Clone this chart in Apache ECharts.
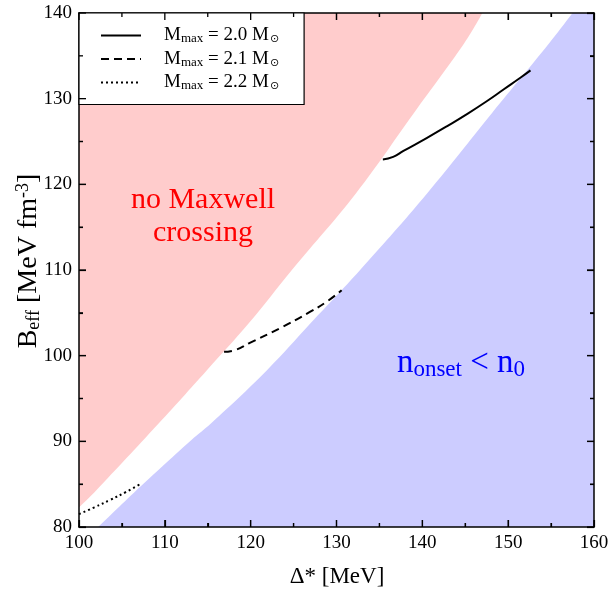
<!DOCTYPE html>
<html><head><meta charset="utf-8">
<script src="https://cdn.jsdelivr.net/npm/echarts@6/dist/echarts.min.js"></script>
<style>html,body{margin:0;padding:0;background:#fff}#c{width:613px;height:589px}</style>
</head><body><div id="c"></div>
<script>
// Region boundaries [Δ*, B_eff]
var noMaxwellEdge = [[100,82.3],[101.75,84.0],[109.3,92.1],[114.9,98.3],[119.8,103.8],[124.8,110],[132.3,119.0],[139.0,128.3],[144.9,136.5],[147.0,140]];
var onsetEdge = [[102.25,80],[106.4,84.0],[113.1,90.15],[115.4,92.1],[121.9,98.3],[127.0,103.8],[132.75,110],[140.6,119.0],[148.1,128.3],[154.8,136.5],[157.5,140],[160,143.3]];
// Curves
var m20 = [[135.4,122.9],[136.6,123.2],[137.8,123.9],[140.5,125.4],[142.9,126.8],[145.2,128.2],[147.5,129.7],[149.5,131.1],[151.5,132.5],[152.6,133.3]];
var m21 = [[116.9,100.45],[118,100.6],[119.9,101.5],[123.4,103.2],[126.9,105.1],[129,106.4],[130.6,107.65]];
var m22 = [[100,81.5],[101.8,82.3],[103.6,83.15],[105.4,84.05],[107.1,85.0]];
var legendLabels = {m20:'2.0', m21:'2.1', m22:'2.2'};
var xTicks = {min:100, max:160, interval:10};
var yTicks = {min:80, max:140, interval:10};

var FONT = '"Liberation Serif","DejaVu Serif",serif';
var chart = echarts.init(document.getElementById('c'));
var gridBox = {left:79, right:19, top:13, bottom:62, outerBoundsMode:'none'};
function axisCommon(show){
  return {
    z:10,
    axisLine:{show:true, onZero:false, lineStyle:{color:'#000', width:1.5}},
    axisTick:{show:true, inside:true, length:7, lineStyle:{color:'#000', width:1.2}},
    minorTick:{show:true, splitNumber:2, length:4, lineStyle:{color:'#000', width:1.2}},
    splitLine:{show:false},
    axisLabel:{show:show, color:'#000', fontFamily:FONT, fontSize:19, margin:7}
  };
}
var xB = Object.assign({type:'value', gridIndex:0, position:'bottom', min:xTicks.min, max:xTicks.max, interval:xTicks.interval}, axisCommon(true));
var xT = Object.assign({type:'value', gridIndex:1, position:'top', min:xTicks.min, max:xTicks.max, interval:xTicks.interval}, axisCommon(false));
var yL = Object.assign({type:'value', gridIndex:0, position:'left', min:yTicks.min, max:yTicks.max, interval:yTicks.interval}, axisCommon(true));
var yR = Object.assign({type:'value', gridIndex:1, position:'right', min:yTicks.min, max:yTicks.max, interval:yTicks.interval}, axisCommon(false));

// Tick marks (major + minor) derived from the axis definitions; kind: 0 x-major, 1 x-minor, 2 y-major, 3 y-minor
var tickData = [];
(function(){
  var v;
  for (v = xTicks.min; v <= xTicks.max + 1e-9; v += xTicks.interval/2) tickData.push([v, Math.round((v - xTicks.min)/(xTicks.interval/2)) % 2 === 0 ? 0 : 1]);
  for (v = yTicks.min; v <= yTicks.max + 1e-9; v += yTicks.interval/2) tickData.push([v, Math.round((v - yTicks.min)/(yTicks.interval/2)) % 2 === 0 ? 2 : 3]);
})();

function renderTick(params, api){
  var v = api.value(0), k = api.value(1);
  var len = (k === 0 || k === 2) ? 7 : 4;
  var segs = [];
  if (k < 2) {
    var b = api.coord([v, yTicks.min]), t = api.coord([v, yTicks.max]);
    segs.push([b[0], b[1], b[0], b[1] - len], [t[0], t[1], t[0], t[1] + len]);
  } else {
    var l = api.coord([xTicks.min, v]), r = api.coord([xTicks.max, v]);
    segs.push([l[0], l[1], l[0] + len, l[1]], [r[0], r[1], r[0] - len, r[1]]);
  }
  return {type:'group', children: segs.map(function(s){
    return {type:'line', shape:{x1:s[0], y1:s[1], x2:s[2], y2:s[3]}, style:{stroke:'#000', lineWidth:1.3}};
  })};
}

var legendRich = {
  a:{fontFamily:FONT, fontSize:19, color:'#000'},
  s:{fontFamily:FONT, fontSize:13, color:'#000', padding:[7,0,0,0]},
  o:{fontFamily:'"DejaVu Sans",sans-serif', fontSize:11, color:'#000', padding:[8,0,0,1]}
};

chart.setOption({
  animation:false,
  backgroundColor:'#fff',
  grid:[Object.assign({}, gridBox), Object.assign({}, gridBox)],
  xAxis:[xB, xT],
  yAxis:[yL, yR],
  legend:{
    orient:'vertical', left:79, top:13, itemWidth:40, itemHeight:14, itemGap:4,
    padding:[13,25,12,21], borderColor:'#000', borderWidth:1.2, backgroundColor:'#fff', z:20,
    data:['m20','m21','m22'],
    itemStyle:{opacity:0},
    formatter:function(n){ return '{a|M}{s|max}{a| = '+legendLabels[n]+' M}{o|⊙}'; },
    textStyle:{padding:[0,0,0,18], rich:legendRich}
  },
  graphic:[
    {type:'text', z:50, x:337, y:577, style:{text:'Δ* [MeV]', fill:'#000', font:'23px '+FONT, align:'center', verticalAlign:'middle'}},
    {type:'text', z:50, x:29, y:261, rotation:Math.PI/2, style:{text:'{b|B}{s|eff}{b| [MeV fm}{p|-3}{b|]}', align:'center', verticalAlign:'middle',
      rich:{b:{fontFamily:FONT, fontSize:28, fill:'#000'}, s:{fontFamily:FONT, fontSize:18, fill:'#000', padding:[10,0,0,0]}, p:{fontFamily:FONT, fontSize:18, fill:'#000', padding:[0,0,12,0]}}}},
    {type:'text', z:50, x:203, y:217, style:{text:'no Maxwell\ncrossing', fill:'#ff0000', font:'30px '+FONT, align:'center', verticalAlign:'middle', lineHeight:33}},
    {type:'text', z:50, x:461, y:363, style:{text:'{a|n}{s|onset}{a| < n}{s|0}', align:'center', verticalAlign:'middle',
      rich:{a:{fontFamily:FONT, fontSize:33, fill:'#0000ff'}, s:{fontFamily:FONT, fontSize:23, fill:'#0000ff', padding:[13,0,0,0]}}}}
  ],
  series:[
    {type:'line', name:'noMaxwell', xAxisIndex:0, yAxisIndex:0, data:noMaxwellEdge, symbol:'none', silent:true, clip:true, smooth:0.4,
      lineStyle:{width:0}, areaStyle:{color:'#ffcccc', opacity:1, origin:'end'}, z:1},
    {type:'line', name:'onset', xAxisIndex:0, yAxisIndex:0, data:onsetEdge, symbol:'none', silent:true, clip:true, smooth:0.4,
      lineStyle:{width:0}, areaStyle:{color:'#ccccff', opacity:1, origin:'start'}, z:1},
    {type:'line', name:'m20', xAxisIndex:0, yAxisIndex:0, data:m20, symbol:'none', smooth:true, clip:true, itemStyle:{color:'#000'}, lineStyle:{color:'#000', width:2, type:'solid'}, z:3},
    {type:'line', name:'m21', xAxisIndex:0, yAxisIndex:0, data:m21, symbol:'none', smooth:true, clip:true, itemStyle:{color:'#000'}, lineStyle:{color:'#000', width:2, type:[8,5]}, z:3},
    {type:'line', name:'m22', xAxisIndex:0, yAxisIndex:0, data:m22, symbol:'none', smooth:true, clip:true, itemStyle:{color:'#000'}, lineStyle:{color:'#000', width:2, type:[2,3]}, z:3},
    {type:'custom', name:'ticks', xAxisIndex:0, yAxisIndex:0, data:tickData, renderItem:renderTick, silent:true, clip:false, z:30,
      encode:{x:0}}
  ]
});
</script></body></html>
